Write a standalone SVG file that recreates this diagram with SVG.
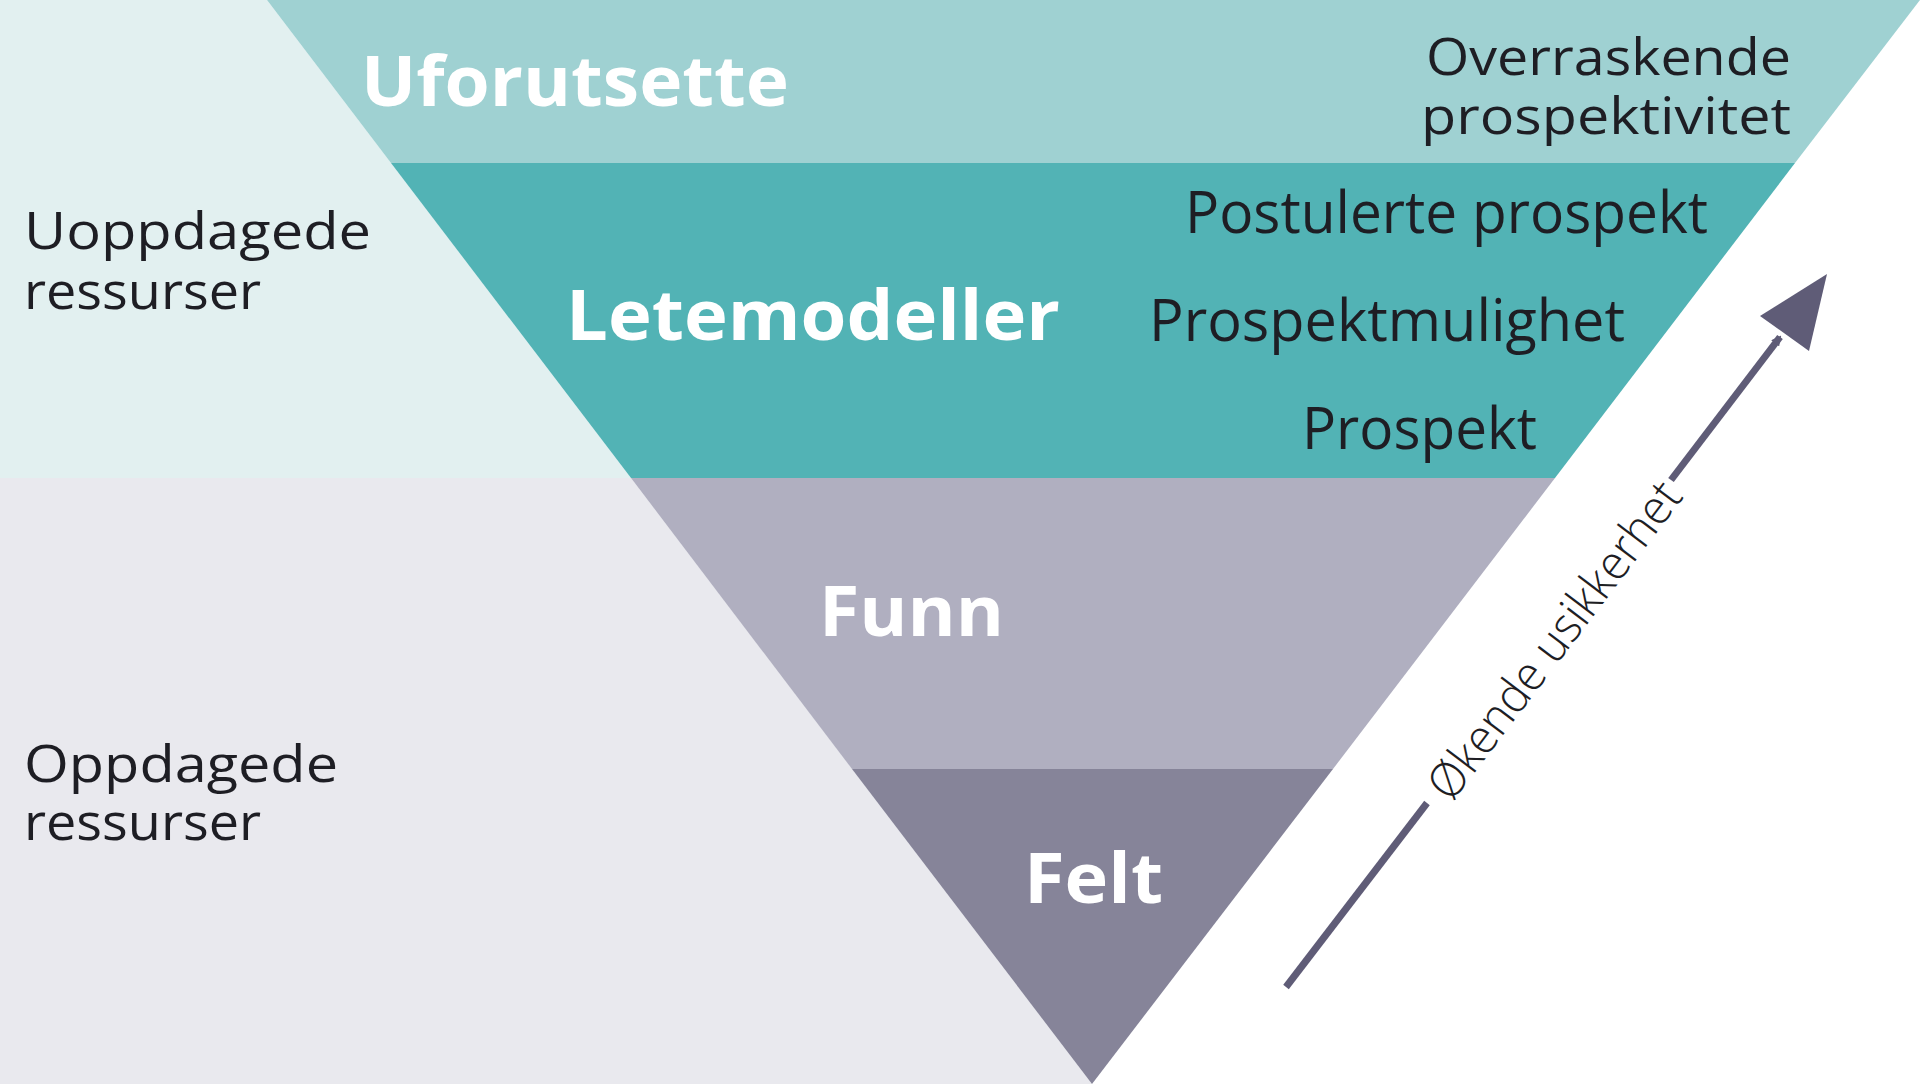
<svg xmlns="http://www.w3.org/2000/svg" width="1920" height="1084" viewBox="0 0 1920 1084">
<style>
.b{font-family:"Open Sans","Liberation Sans",sans-serif;font-weight:bold;fill:#fff}
.r{font-family:"Open Sans","Liberation Sans",sans-serif;fill:#1e1e24}
</style>
<defs><marker id="ah" markerWidth="10" markerHeight="10" refX="8" refY="5" orient="auto" markerUnits="userSpaceOnUse" viewBox="0 0 10 10"><path d="M0,0 L10,5 L0,10 z" fill="#5f5c77"/></marker></defs>
<rect width="1920" height="1084" fill="#fff"/>
<g id="bg">
<polygon points="0,0 267,0 631,478 0,478" fill="#e2f0f0"/>
<polygon points="0,478 631,478 1092,1084 0,1084" fill="#e9e9ee"/>
</g>
<g id="uforutsette"><polygon points="267,0 1920,0 1795,163 391,163" fill="#9fd1d2"/>
<text class="b" x="361" y="106" font-size="70" textLength="428" lengthAdjust="spacingAndGlyphs">Uforutsette</text>
<text class="r" x="1791" y="75" font-size="52" text-anchor="end" textLength="365" lengthAdjust="spacingAndGlyphs">Overraskende</text>
<text class="r" x="1791" y="134" font-size="52" text-anchor="end" textLength="370" lengthAdjust="spacingAndGlyphs">prospektivitet</text></g>
<g id="letemodeller"><polygon points="391,163 1795,163 1555,478 631,478" fill="#52b3b5"/>
<text class="b" x="566" y="340" font-size="70" textLength="494" lengthAdjust="spacingAndGlyphs">Letemodeller</text>
<text class="r" x="1185" y="233" font-size="58" textLength="523" lengthAdjust="spacingAndGlyphs">Postulerte prospekt</text>
<text class="r" x="1149" y="341" font-size="58" textLength="476" lengthAdjust="spacingAndGlyphs">Prospektmulighet</text>
<text class="r" x="1302" y="449" font-size="58" textLength="235" lengthAdjust="spacingAndGlyphs">Prospekt</text></g>
<g id="funn"><polygon points="631,478 1555,478 1333,769 852,769" fill="#b0afc0"/>
<text class="b" x="819" y="636" font-size="70" textLength="185" lengthAdjust="spacingAndGlyphs">Funn</text></g>
<g id="felt"><polygon points="852,769 1333,769 1092,1084" fill="#868499"/>
<text class="b" x="1024" y="903" font-size="70" textLength="139" lengthAdjust="spacingAndGlyphs">Felt</text></g>
<g id="labels">
<text class="r" x="24" y="249" font-size="52" textLength="347" lengthAdjust="spacingAndGlyphs">Uoppdagede</text>
<text class="r" x="24" y="309" font-size="52" textLength="237" lengthAdjust="spacingAndGlyphs">ressurser</text>
<text class="r" x="24" y="782" font-size="52" textLength="314" lengthAdjust="spacingAndGlyphs">Oppdagede</text>
<text class="r" x="24" y="840" font-size="52" textLength="237" lengthAdjust="spacingAndGlyphs">ressurser</text>
</g>
<g id="connectors" stroke="#5f5c77" stroke-width="7" fill="none">
<line x1="1286" y1="987" x2="1427" y2="803"/>
<line x1="1671" y1="480" x2="1780" y2="337" marker-end="url(#ah)"/>
<polygon points="1827,274 1809,351 1760,316" fill="#5f5c77" stroke="none"/>
</g>
<text x="1553" y="639" font-family="Open Sans, Liberation Sans, sans-serif" font-weight="300" font-size="48" fill="#1e1e24" text-anchor="middle" dominant-baseline="central" transform="rotate(-52.8 1553 639)" textLength="385" lengthAdjust="spacingAndGlyphs">Økende usikkerhet</text>
</svg>
